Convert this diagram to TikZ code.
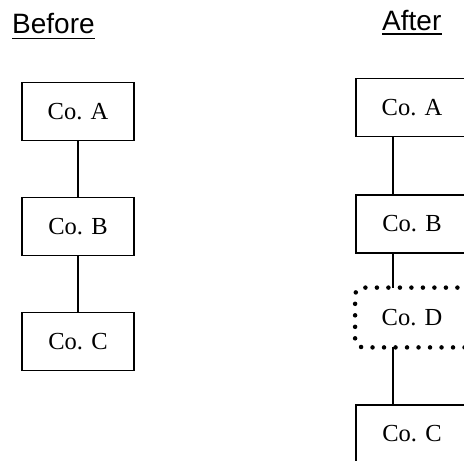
\documentclass[tikz,border=0pt]{standalone}
\usepackage{fontspec}
\setmainfont{Liberation Serif}
\newfontfamily\titlefont{Liberation Sans}
\tikzset{
	cobox/.style={draw, line width=1.8pt, minimum width=112pt, minimum height=58pt, inner sep=0pt, font=\fontsize{24.5}{26}\selectfont},
	newbox/.style={cobox, draw=none},
	link/.style={line width=1.4pt},
	heading/.style={anchor=base west, inner sep=0pt, font=\titlefont\fontsize{28}{30}\selectfont}}

\begin{document}
\begin{tikzpicture}[x=1pt,y=-1pt]
	\useasboundingbox (0,0) rectangle (464,461);
	\clip (0,0) rectangle (464,461);

	% Headings
	\node [heading] (before) at (12,33) {Before};
	\node [heading] (after) at (382,30) {After};
	\draw [line width=1.6pt] ([yshift=-5.5pt]before.base west) -- ([yshift=-5.5pt]before.base east);
	\draw [line width=1.6pt] ([yshift=-4pt]after.base west) -- ([yshift=-4pt]after.base east);

	% Before
	\node [cobox] (lA) at (78,111.5) {Co. A};
	\node [cobox] (lB) at (78,226.5) {Co. B};
	\node [cobox] (lC) at (78,341.5) {Co. C};
	\draw [link] (lA) -- (lB);
	\draw [link] (lB) -- (lC);

	% After
	\node [cobox] (rA) at (412,107.5) {Co. A};
	\node [cobox] (rB) at (412,224) {Co. B};
	\node [newbox] (rD) at (412,317.5) {Co. D};
	\node [cobox] (rC) at (412,434) {Co. C};
	\draw [line width=4.5pt, line cap=round, dash pattern=on 0pt off 11.5pt, rounded corners=8pt]
		(rD.north east) -- (rD.north west) -- (rD.south west) -- (rD.south east);
	\draw [link] ([xshift=-19pt]rA.south) -- ([xshift=-19pt]rB.north);
	\draw [link] ([xshift=-19pt]rB.south) -- ([xshift=-19pt]rD.north);
	\draw [link] ([xshift=-19pt]rD.south) -- ([xshift=-19pt]rC.north);

\end{tikzpicture}
\end{document}
